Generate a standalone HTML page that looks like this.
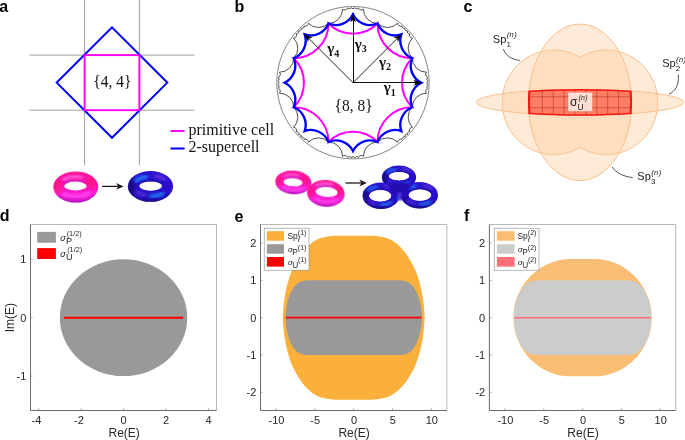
<!DOCTYPE html>
<html lang="en"><head><meta charset="utf-8"><title>Figure</title>
<style>html,body{margin:0;padding:0;background:#fff;overflow:hidden}svg{display:block}</style>
</head><body>
<svg width="685" height="440" viewBox="0 0 685 440">
<rect width="685" height="440" fill="#fff"/>
<defs>
<filter id="b03" x="-20%" y="-20%" width="140%" height="140%"><feGaussianBlur stdDeviation="0.35"/></filter>
<filter id="b1" x="-30%" y="-30%" width="160%" height="160%"><feGaussianBlur stdDeviation="1.1"/></filter>
<filter id="b2" x="-30%" y="-30%" width="160%" height="160%"><feGaussianBlur stdDeviation="1.8"/></filter>
<linearGradient id="gm" x1="0" y1="0" x2="0" y2="1">
<stop offset="0" stop-color="#ff1c9c"/><stop offset="0.4" stop-color="#ff10b0"/><stop offset="0.75" stop-color="#ff20d8"/><stop offset="1" stop-color="#c41cc8"/>
</linearGradient>
<linearGradient id="gb" x1="0" y1="0" x2="0" y2="1">
<stop offset="0" stop-color="#2c14d0"/><stop offset="0.5" stop-color="#2a10cc"/><stop offset="0.85" stop-color="#2614c4"/><stop offset="1" stop-color="#180c90"/>
</linearGradient>
</defs>
<g id="pa">
<g stroke="#6e6e6e" stroke-width="0.65" fill="none">
<line x1="84.6" y1="0" x2="84.6" y2="165.3"/>
<line x1="139.4" y1="0" x2="139.4" y2="165.3"/>
<line x1="29.4" y1="55.1" x2="194.5" y2="55.1"/>
<line x1="29.4" y1="110.2" x2="194.5" y2="110.2"/>
</g>
<polygon points="112,27.4 167.3,82.6 112,137.8 56.7,82.6" fill="none" stroke="#0000ff" stroke-width="2" stroke-linejoin="miter"/>
<rect x="84.6" y="55.1" width="54.8" height="55.1" fill="none" stroke="#ff00ff" stroke-width="1.9"/>
<text transform="translate(112.3,86.8) scale(1,1.09)" font-family='"Liberation Serif", "Times New Roman", Times, serif' font-size="15.5" text-anchor="middle" fill="#111">{4, 4}</text>
</g>
<line x1="170.5" y1="131" x2="184.6" y2="131" stroke="#ff00ff" stroke-width="2"/>
<line x1="170.5" y1="148.5" x2="184.6" y2="148.5" stroke="#0000ff" stroke-width="2"/>
<text transform="translate(188.5,134.6) scale(1,1.04)" font-family='"Liberation Serif", "Times New Roman", Times, serif' font-size="16" fill="#111">primitive cell</text>
<text transform="translate(188.5,152.3) scale(1,1.04)" font-family='"Liberation Serif", "Times New Roman", Times, serif' font-size="16" fill="#111">2-supercell</text>
<g id="pb">
<circle cx="353.0" cy="82.7" r="76.2" fill="none" stroke="#444" stroke-width="0.65"/>
<path d="M412.2,58.18A14.27,14.27 0 0,1 412.41,38.09A3.1,3.1 0 0,1 409.64,33.81A2.26,2.26 0 0,1 407.35,30.94A2.19,2.19 0 0,1 404.76,28.35A2.26,2.26 0 0,1 401.89,26.06A3.1,3.1 0 0,1 397.61,23.29A14.27,14.27 0 0,1 377.52,23.5A14.27,14.27 0 0,1 363.47,9.15A3.1,3.1 0 0,1 358.48,8.07A2.26,2.26 0 0,1 354.83,7.67A2.19,2.19 0 0,1 351.17,7.67A2.26,2.26 0 0,1 347.52,8.07A3.1,3.1 0 0,1 342.53,9.15A14.27,14.27 0 0,1 328.48,23.5A14.27,14.27 0 0,1 308.39,23.29A3.1,3.1 0 0,1 304.11,26.06A2.26,2.26 0 0,1 301.24,28.35A2.19,2.19 0 0,1 298.65,30.94A2.26,2.26 0 0,1 296.36,33.81A3.1,3.1 0 0,1 293.59,38.09A14.27,14.27 0 0,1 293.8,58.18A14.27,14.27 0 0,1 279.45,72.23A3.1,3.1 0 0,1 278.37,77.22A2.26,2.26 0 0,1 277.97,80.87A2.19,2.19 0 0,1 277.97,84.53A2.26,2.26 0 0,1 278.37,88.18A3.1,3.1 0 0,1 279.45,93.17A14.27,14.27 0 0,1 293.8,107.22A14.27,14.27 0 0,1 293.59,127.31A3.1,3.1 0 0,1 296.36,131.59A2.26,2.26 0 0,1 298.65,134.46A2.19,2.19 0 0,1 301.24,137.05A2.26,2.26 0 0,1 304.11,139.34A3.1,3.1 0 0,1 308.39,142.11A14.27,14.27 0 0,1 328.48,141.9A14.27,14.27 0 0,1 342.53,156.25A3.1,3.1 0 0,1 347.52,157.33A2.26,2.26 0 0,1 351.17,157.73A2.19,2.19 0 0,1 354.83,157.73A2.26,2.26 0 0,1 358.48,157.33A3.1,3.1 0 0,1 363.47,156.25A14.27,14.27 0 0,1 377.52,141.9A14.27,14.27 0 0,1 397.61,142.11A3.1,3.1 0 0,1 401.89,139.34A2.26,2.26 0 0,1 404.76,137.05A2.19,2.19 0 0,1 407.35,134.46A2.26,2.26 0 0,1 409.64,131.59A3.1,3.1 0 0,1 412.41,127.31A14.27,14.27 0 0,1 412.2,107.22A14.27,14.27 0 0,1 426.55,93.17A3.1,3.1 0 0,1 427.63,88.18A2.26,2.26 0 0,1 428.03,84.53A2.19,2.19 0 0,1 428.03,80.87A2.26,2.26 0 0,1 427.63,77.22A3.1,3.1 0 0,1 426.55,72.23A14.27,14.27 0 0,1 412.2,58.18Z" fill="none" stroke="#111" stroke-width="0.75" stroke-linejoin="miter"/>
<path d="M412.2,58.18A34.68,34.68 0 0,1 377.52,23.5A34.68,34.68 0 0,1 328.48,23.5A34.68,34.68 0 0,1 293.8,58.18A34.68,34.68 0 0,1 293.8,107.22A34.68,34.68 0 0,1 328.48,141.9A34.68,34.68 0 0,1 377.52,141.9A34.68,34.68 0 0,1 412.2,107.22A34.68,34.68 0 0,1 412.2,58.18Z" fill="none" stroke="#ff00ff" stroke-width="2.0" stroke-linejoin="miter"/>
<path d="M412.2,58.18A18.98,18.98 0 0,1 401.33,34.37A18.98,18.98 0 0,1 377.52,23.5A18.98,18.98 0 0,1 353,14.35A18.98,18.98 0 0,1 328.48,23.5A18.98,18.98 0 0,1 304.67,34.37A18.98,18.98 0 0,1 293.8,58.18A18.98,18.98 0 0,1 284.65,82.7A18.98,18.98 0 0,1 293.8,107.22A18.98,18.98 0 0,1 304.67,131.03A18.98,18.98 0 0,1 328.48,141.9A18.98,18.98 0 0,1 353,151.05A18.98,18.98 0 0,1 377.52,141.9A18.98,18.98 0 0,1 401.33,131.03A18.98,18.98 0 0,1 412.2,107.22A18.98,18.98 0 0,1 421.35,82.7A18.98,18.98 0 0,1 412.2,58.18Z" fill="none" stroke="#0000ff" stroke-width="2.35" stroke-linejoin="miter" stroke-miterlimit="10"/>
<line x1="353.0" y1="82.7" x2="418.04" y2="82.7" stroke="#111" stroke-width="1" shape-rendering="crispEdges"/>
<path d="M422.04,82.7L413.54,85.6L415.54,82.7L413.54,79.8Z" fill="#000"/>
<line x1="353.0" y1="82.7" x2="398.99" y2="36.71" stroke="#111" stroke-width="0.9"/>
<path d="M401.82,33.88L397.86,41.94L397.22,38.48L393.76,37.84Z" fill="#000"/>
<line x1="353.0" y1="82.7" x2="353" y2="17.66" stroke="#111" stroke-width="1" shape-rendering="crispEdges"/>
<path d="M353,13.66L355.9,22.16L353,20.16L350.1,22.16Z" fill="#000"/>
<line x1="353.0" y1="82.7" x2="307.01" y2="36.71" stroke="#111" stroke-width="0.9"/>
<path d="M304.18,33.88L312.24,37.84L308.78,38.48L308.14,41.94Z" fill="#000"/>
<text x="383.8" y="92.4" font-family='"Liberation Serif", "Times New Roman", Times, serif' font-weight="bold" font-size="15" fill="#111">γ<tspan font-size="10" dy="3.4">1</tspan></text>
<text x="379.0" y="66.6" font-family='"Liberation Serif", "Times New Roman", Times, serif' font-weight="bold" font-size="15" fill="#111">γ<tspan font-size="10" dy="3.4">2</tspan></text>
<text x="354.7" y="48.6" font-family='"Liberation Serif", "Times New Roman", Times, serif' font-weight="bold" font-size="15" fill="#111">γ<tspan font-size="10" dy="3.4">3</tspan></text>
<text x="327.3" y="53.2" font-family='"Liberation Serif", "Times New Roman", Times, serif' font-weight="bold" font-size="15" fill="#111">γ<tspan font-size="10" dy="3.4">4</tspan></text>
<text transform="translate(353.6,110.9) scale(1,1.07)" font-family='"Liberation Serif", "Times New Roman", Times, serif' font-size="15.5" text-anchor="middle" fill="#111">{8, 8}</text>
</g>
<g>
<clipPath id="tc1"><path d="M53.3,187a22.5,15.6 0 1,0 45,0a22.5,15.6 0 1,0 -45,0ZM64.2,186a11.2,4.4 0 1,0 22.4,0a11.2,4.4 0 1,0 -22.4,0Z" clip-rule="evenodd"/></clipPath>
<g filter="url(#b03)"><path d="M53.3,187a22.5,15.6 0 1,0 45,0a22.5,15.6 0 1,0 -45,0ZM64.2,186a11.2,4.4 0 1,0 22.4,0a11.2,4.4 0 1,0 -22.4,0Z" fill-rule="evenodd" fill="url(#gm)"/>
<g clip-path="url(#tc1)">
<ellipse cx="57.35" cy="186.22" rx="3.83" ry="7.8" fill="#ff1a64" filter="url(#b2)" opacity="0.55"/>
<ellipse cx="91.55" cy="182.32" rx="3.83" ry="6.24" fill="#ff1a64" filter="url(#b2)" opacity="0.55"/>
<path d="M63.47,179.9A16.85,10 0 0,1 81.5,177.3" fill="none" stroke="#ff78ec" stroke-width="2.91" stroke-linecap="round" filter="url(#b1)" opacity="0.75"/>
<path d="M65.88,182.7A11.76,5.28 0 0,1 81.56,181.6" fill="none" stroke="#a838e8" stroke-width="2.24" stroke-linecap="round" filter="url(#b1)" opacity="0.85"/>
<path d="M63.8,193.7A16.85,10.5 0 0,0 89.08,192.5" fill="none" stroke="#ff4af4" stroke-width="3.81" stroke-linecap="round" filter="url(#b1)" opacity="0.8"/>
<path d="M57.8,196.67A22.5,15.6 0 0,0 94.92,195.58" fill="none" stroke="#9a1cb8" stroke-width="1.79" stroke-linecap="round" filter="url(#b1)" opacity="0.85"/>
</g></g></g>
<line x1="102.2" y1="186.4" x2="120.6" y2="186.4" stroke="#231815" stroke-width="1.3"/>
<path d="M123.6,186.4L116.1,183L118.3,186.4L116.1,189.8Z" fill="#231815"/>
<g>
<clipPath id="tc2"><path d="M127.9,186.4a22.6,15.4 0 1,0 45.2,0a22.6,15.4 0 1,0 -45.2,0ZM139.3,186.1a11.4,4.6 0 1,0 22.8,0a11.4,4.6 0 1,0 -22.8,0Z" clip-rule="evenodd"/></clipPath>
<g filter="url(#b03)"><path d="M127.9,186.4a22.6,15.4 0 1,0 45.2,0a22.6,15.4 0 1,0 -45.2,0ZM139.3,186.1a11.4,4.6 0 1,0 22.8,0a11.4,4.6 0 1,0 -22.8,0Z" fill-rule="evenodd" fill="url(#gb)"/>
<g clip-path="url(#tc2)">
<ellipse cx="131.29" cy="187.17" rx="3.62" ry="8.47" fill="#120870" filter="url(#b2)" opacity="0.8"/>
<path d="M131.29,194.87A22.6,15.4 0 0,0 169.71,194.87" fill="none" stroke="#120870" stroke-width="2.16" stroke-linecap="round" filter="url(#b1)" opacity="0.85"/>
<path d="M140.44,183.34A11.97,5.52 0 0,1 160.96,183.34" fill="none" stroke="#1a0c90" stroke-width="1.94" stroke-linecap="round" filter="url(#b1)" opacity="0.8"/>
<path d="M136.18,180.95A17,10 0 0,1 146.2,176.59" fill="none" stroke="#1e90ff" stroke-width="3.67" stroke-linecap="round" filter="url(#b2)" opacity="0.85"/>
<path d="M155.35,175.82A18.36,10.8 0 0,1 164.66,179.31" fill="none" stroke="#8c4ce0" stroke-width="2.81" stroke-linecap="round" filter="url(#b2)" opacity="0.7"/>
<path d="M162.62,193.32A17,10 0 0,1 151.19,196.24" fill="none" stroke="#1e90ff" stroke-width="3.67" stroke-linecap="round" filter="url(#b2)" opacity="0.85"/>
<path d="M144.55,195.06A16.15,9.5 0 0,1 136.9,191.28" fill="none" stroke="#7c3cd8" stroke-width="2.81" stroke-linecap="round" filter="url(#b2)" opacity="0.65"/>
</g></g></g>
<g transform="rotate(4 293.4 182.3)">
<clipPath id="tc3"><path d="M275.3,182.3a18.1,11.9 0 1,0 36.2,0a18.1,11.9 0 1,0 -36.2,0ZM283.4,182.3a9.6,4 0 1,0 19.2,0a9.6,4 0 1,0 -19.2,0Z" clip-rule="evenodd"/></clipPath>
<g filter="url(#b03)"><path d="M275.3,182.3a18.1,11.9 0 1,0 36.2,0a18.1,11.9 0 1,0 -36.2,0ZM283.4,182.3a9.6,4 0 1,0 19.2,0a9.6,4 0 1,0 -19.2,0Z" fill-rule="evenodd" fill="url(#gm)"/>
<g clip-path="url(#tc3)">
<ellipse cx="278.56" cy="181.71" rx="3.08" ry="5.95" fill="#ff1a64" filter="url(#b2)" opacity="0.55"/>
<ellipse cx="306.07" cy="178.73" rx="3.08" ry="4.76" fill="#ff1a64" filter="url(#b2)" opacity="0.55"/>
<path d="M283.23,177.05A13.85,7.95 0 0,1 298.05,174.99" fill="none" stroke="#ff78ec" stroke-width="2.05" stroke-linecap="round" filter="url(#b1)" opacity="0.75"/>
<path d="M284.84,179.3A10.08,4.8 0 0,1 298.28,178.3" fill="none" stroke="#a838e8" stroke-width="1.58" stroke-linecap="round" filter="url(#b1)" opacity="0.85"/>
<path d="M283.5,188.02A13.85,8.35 0 0,0 304.28,187.07" fill="none" stroke="#ff4af4" stroke-width="2.69" stroke-linecap="round" filter="url(#b1)" opacity="0.8"/>
<path d="M278.92,189.68A18.1,11.9 0 0,0 308.78,188.84" fill="none" stroke="#9a1cb8" stroke-width="1.26" stroke-linecap="round" filter="url(#b1)" opacity="0.85"/>
</g></g></g>
<g transform="rotate(4 325.9 193.4)">
<clipPath id="tc4"><path d="M307.1,193.4a18.8,13.3 0 1,0 37.6,0a18.8,13.3 0 1,0 -37.6,0ZM315.5,192a11.1,5 0 1,0 22.2,0a11.1,5 0 1,0 -22.2,0Z" clip-rule="evenodd"/></clipPath>
<g filter="url(#b03)"><path d="M307.1,193.4a18.8,13.3 0 1,0 37.6,0a18.8,13.3 0 1,0 -37.6,0ZM315.5,192a11.1,5 0 1,0 22.2,0a11.1,5 0 1,0 -22.2,0Z" fill-rule="evenodd" fill="url(#gm)"/>
<g clip-path="url(#tc4)">
<ellipse cx="310.48" cy="192.74" rx="3.2" ry="6.65" fill="#ff1a64" filter="url(#b2)" opacity="0.55"/>
<ellipse cx="339.06" cy="189.41" rx="3.2" ry="5.32" fill="#ff1a64" filter="url(#b2)" opacity="0.55"/>
<path d="M315.49,186.66A14.95,9.15 0 0,1 331.48,184.28" fill="none" stroke="#ff78ec" stroke-width="2.16" stroke-linecap="round" filter="url(#b1)" opacity="0.75"/>
<path d="M317.17,188.25A11.65,6 0 0,1 332.71,187" fill="none" stroke="#a838e8" stroke-width="1.66" stroke-linecap="round" filter="url(#b1)" opacity="0.85"/>
<path d="M315.79,199.29A14.95,9.61 0 0,0 338.21,198.19" fill="none" stroke="#ff4af4" stroke-width="2.82" stroke-linecap="round" filter="url(#b1)" opacity="0.8"/>
<path d="M310.86,201.65A18.8,13.3 0 0,0 341.88,200.72" fill="none" stroke="#9a1cb8" stroke-width="1.33" stroke-linecap="round" filter="url(#b1)" opacity="0.85"/>
</g></g></g>
<line x1="345.6" y1="183" x2="363.8" y2="183" stroke="#231815" stroke-width="1.3"/>
<path d="M366.8,183L359.3,179.6L361.5,183L359.3,186.4Z" fill="#231815"/>
<g>
<clipPath id="tc5"><path d="M381.9,177.2a17.1,11.7 0 1,0 34.2,0a17.1,11.7 0 1,0 -34.2,0ZM388.9,176.2a10.1,4.1 0 1,0 20.2,0a10.1,4.1 0 1,0 -20.2,0Z" clip-rule="evenodd"/></clipPath>
<g filter="url(#b03)"><path d="M381.9,177.2a17.1,11.7 0 1,0 34.2,0a17.1,11.7 0 1,0 -34.2,0ZM388.9,176.2a10.1,4.1 0 1,0 20.2,0a10.1,4.1 0 1,0 -20.2,0Z" fill-rule="evenodd" fill="url(#gb)"/>
<g clip-path="url(#tc5)">
<ellipse cx="384.46" cy="177.78" rx="2.74" ry="6.44" fill="#120870" filter="url(#b2)" opacity="0.8"/>
<path d="M384.46,183.63A17.1,11.7 0 0,0 413.54,183.63" fill="none" stroke="#120870" stroke-width="1.52" stroke-linecap="round" filter="url(#b1)" opacity="0.85"/>
<path d="M389.91,173.74A10.61,4.92 0 0,1 408.09,173.74" fill="none" stroke="#1a0c90" stroke-width="1.37" stroke-linecap="round" filter="url(#b1)" opacity="0.8"/>
<path d="M387.47,172.51A13.6,7.9 0 0,1 395.48,169.07" fill="none" stroke="#1e90ff" stroke-width="2.58" stroke-linecap="round" filter="url(#b2)" opacity="0.85"/>
<path d="M402.8,168.46A14.69,8.53 0 0,1 410.25,171.22" fill="none" stroke="#8c4ce0" stroke-width="1.98" stroke-linecap="round" filter="url(#b2)" opacity="0.7"/>
<path d="M408.62,182.29A13.6,7.9 0 0,1 399.47,184.6" fill="none" stroke="#1e90ff" stroke-width="2.58" stroke-linecap="round" filter="url(#b2)" opacity="0.85"/>
<path d="M394.16,183.66A12.92,7.5 0 0,1 388.04,180.68" fill="none" stroke="#7c3cd8" stroke-width="1.98" stroke-linecap="round" filter="url(#b2)" opacity="0.65"/>
</g></g></g>
<g>
<clipPath id="tc6"><path d="M362.6,195.7a18.4,13.2 0 1,0 36.8,0a18.4,13.2 0 1,0 -36.8,0ZM369.2,195.7a11,5.7 0 1,0 22,0a11,5.7 0 1,0 -22,0Z" clip-rule="evenodd"/></clipPath>
<g filter="url(#b03)"><path d="M362.6,195.7a18.4,13.2 0 1,0 36.8,0a18.4,13.2 0 1,0 -36.8,0ZM369.2,195.7a11,5.7 0 1,0 22,0a11,5.7 0 1,0 -22,0Z" fill-rule="evenodd" fill="url(#gb)"/>
<g clip-path="url(#tc6)">
<ellipse cx="365.36" cy="196.36" rx="2.94" ry="7.26" fill="#120870" filter="url(#b2)" opacity="0.8"/>
<path d="M365.36,202.96A18.4,13.2 0 0,0 396.64,202.96" fill="none" stroke="#120870" stroke-width="1.5" stroke-linecap="round" filter="url(#b1)" opacity="0.85"/>
<path d="M370.3,192.28A11.55,6.84 0 0,1 390.1,192.28" fill="none" stroke="#1a0c90" stroke-width="1.35" stroke-linecap="round" filter="url(#b1)" opacity="0.8"/>
<path d="M368.13,190.69A14.7,9.45 0 0,1 376.8,186.57" fill="none" stroke="#1e90ff" stroke-width="2.55" stroke-linecap="round" filter="url(#b2)" opacity="0.85"/>
<path d="M384.71,185.84A15.88,10.21 0 0,1 392.76,189.14" fill="none" stroke="#8c4ce0" stroke-width="1.95" stroke-linecap="round" filter="url(#b2)" opacity="0.7"/>
<path d="M390.99,202.38A14.7,9.45 0 0,1 381.11,205.14" fill="none" stroke="#1e90ff" stroke-width="2.55" stroke-linecap="round" filter="url(#b2)" opacity="0.85"/>
<path d="M375.37,204.02A13.96,8.98 0 0,1 368.76,200.46" fill="none" stroke="#7c3cd8" stroke-width="1.95" stroke-linecap="round" filter="url(#b2)" opacity="0.65"/>
</g></g></g>
<g>
<clipPath id="tc7"><path d="M401,195.2a18.5,13.2 0 1,0 37,0a18.5,13.2 0 1,0 -37,0ZM408.6,195.1a11.3,5.6 0 1,0 22.6,0a11.3,5.6 0 1,0 -22.6,0Z" clip-rule="evenodd"/></clipPath>
<g filter="url(#b03)"><path d="M401,195.2a18.5,13.2 0 1,0 37,0a18.5,13.2 0 1,0 -37,0ZM408.6,195.1a11.3,5.6 0 1,0 22.6,0a11.3,5.6 0 1,0 -22.6,0Z" fill-rule="evenodd" fill="url(#gb)"/>
<g clip-path="url(#tc7)">
<ellipse cx="403.77" cy="195.86" rx="2.96" ry="7.26" fill="#120870" filter="url(#b2)" opacity="0.8"/>
<path d="M403.77,202.46A18.5,13.2 0 0,0 435.23,202.46" fill="none" stroke="#120870" stroke-width="1.52" stroke-linecap="round" filter="url(#b1)" opacity="0.85"/>
<path d="M409.73,191.74A11.87,6.72 0 0,1 430.07,191.74" fill="none" stroke="#1a0c90" stroke-width="1.37" stroke-linecap="round" filter="url(#b1)" opacity="0.8"/>
<path d="M407.06,190.17A14.9,9.4 0 0,1 415.84,186.07" fill="none" stroke="#1e90ff" stroke-width="2.58" stroke-linecap="round" filter="url(#b2)" opacity="0.85"/>
<path d="M423.86,185.34A16.09,10.15 0 0,1 432.03,188.62" fill="none" stroke="#8c4ce0" stroke-width="1.98" stroke-linecap="round" filter="url(#b2)" opacity="0.7"/>
<path d="M430.24,201.8A14.9,9.4 0 0,1 420.22,204.54" fill="none" stroke="#1e90ff" stroke-width="2.58" stroke-linecap="round" filter="url(#b2)" opacity="0.85"/>
<path d="M414.4,203.43A14.15,8.93 0 0,1 407.7,199.88" fill="none" stroke="#7c3cd8" stroke-width="1.98" stroke-linecap="round" filter="url(#b2)" opacity="0.65"/>
</g></g></g>
<g filter="url(#b1)"><path d="M388,183.5 Q399,180.5 411,183.5 L409.5,195 Q404,197 400,201 Q396,197 390.5,195Z" fill="#2610c0"/><ellipse cx="399.7" cy="187.5" rx="8.5" ry="5" fill="#220eb0"/></g>
<ellipse cx="399.8" cy="195.2" rx="1.5" ry="3.2" fill="#7a48d8" filter="url(#b1)" opacity="0.85"/>
<ellipse cx="398.2" cy="198.2" rx="1.3" ry="1.6" fill="#2a80ff" filter="url(#b1)" opacity="0.8"/>
<g filter="url(#b03)" fill="#fff"><ellipse cx="399" cy="176.2" rx="10.0" ry="4.0"/><ellipse cx="380.2" cy="195.7" rx="10.9" ry="5.6"/><ellipse cx="419.9" cy="195.1" rx="11.2" ry="5.5"/></g>
<g id="pc">
<defs><clipPath id="cthin"><ellipse cx="580.0" cy="102.3" rx="103.7" ry="12.9"/></clipPath><clipPath id="cvert"><ellipse cx="580.0" cy="102.3" rx="52.2" ry="78.8"/></clipPath></defs>
<path d="M580,57.04A51.8,52.4 0 1,1 580,147.56A51.8,52.4 0 1,1 580,57.04Z" fill="#fdd0a0" fill-opacity="0.42" stroke="#fbbf8a" stroke-width="1.0"/>
<ellipse cx="580.0" cy="102.3" rx="51.6" ry="78.2" fill="#fdd0a0" fill-opacity="0.42" stroke="#fbbf8a" stroke-width="1.0"/>
<ellipse cx="580.0" cy="102.3" rx="103.7" ry="12.9" fill="#fdd0a0" fill-opacity="0.42" stroke="#fbbf8a" stroke-width="1.0"/>
<g clip-path="url(#cthin)">
<ellipse cx="580.0" cy="102.3" rx="51.6" ry="78.2" fill="#ff5a44" fill-opacity="0.72" stroke="none"/>
<g stroke="#7a1810" stroke-width="0.55" stroke-opacity="0.7">
<line x1="542.3" y1="88" x2="542.3" y2="117"/>
<line x1="553.2" y1="88" x2="553.2" y2="117"/>
<line x1="564.1" y1="88" x2="564.1" y2="117"/>
<line x1="575.0" y1="88" x2="575.0" y2="117"/>
<line x1="585.9" y1="88" x2="585.9" y2="117"/>
<line x1="596.8" y1="88" x2="596.8" y2="117"/>
<line x1="607.7" y1="88" x2="607.7" y2="117"/>
<line x1="618.6" y1="88" x2="618.6" y2="117"/>
<line x1="528" y1="96.8" x2="632" y2="96.8"/>
<line x1="528" y1="107.8" x2="632" y2="107.8"/>
</g>
<ellipse cx="580.0" cy="102.3" rx="51.0" ry="77.60000000000001" fill="none" stroke="#f41812" stroke-width="2.1"/>
</g>
<ellipse cx="580.0" cy="102.3" rx="103.7" ry="12.6" fill="none" stroke="#f41812" stroke-width="1.5" clip-path="url(#cvert)"/>
<rect x="568.2" y="92.6" width="24" height="18.6" fill="#fde6dc" fill-opacity="0.94"/>
<text x="570" y="106.2" font-family='"Liberation Sans", Arial, Helvetica, sans-serif' font-size="12" fill="#1a1a1a">σ<tspan font-size="8.4" dy="3.3">U</tspan><tspan font-size="7" dy="-9.8" dx="-5" font-style="italic" letter-spacing="0.3">(n)</tspan></text>
<text x="492.8" y="42.6" font-family='"Liberation Sans", Arial, Helvetica, sans-serif' font-size="11" fill="#1a1a1a">Sp<tspan font-size="8" dy="3.9" dx="0.2">1</tspan><tspan font-size="7.6" dy="-9.4" dx="-4.2" font-style="italic" letter-spacing="0.35">(n)</tspan></text>
<text x="662.2" y="67.3" font-family='"Liberation Sans", Arial, Helvetica, sans-serif' font-size="11" fill="#1a1a1a">Sp<tspan font-size="8" dy="3.9" dx="0.2">2</tspan><tspan font-size="7.6" dy="-9.4" dx="-4.2" font-style="italic" letter-spacing="0.35">(n)</tspan></text>
<text x="637.3" y="180.3" font-family='"Liberation Sans", Arial, Helvetica, sans-serif' font-size="11" fill="#1a1a1a">Sp<tspan font-size="8" dy="3.9" dx="0.2">3</tspan><tspan font-size="7.6" dy="-9.4" dx="-4.2" font-style="italic" letter-spacing="0.35">(n)</tspan></text>
<path d="M503.4,49C505.5,55.5 511.5,59.5 519.8,60.5" fill="none" stroke="#333" stroke-width="0.85"/>
<path d="M678.2,74.5C679.3,85 675.5,91 669,94.2" fill="none" stroke="#333" stroke-width="0.85"/>
<path d="M612.2,167C616,172.8 623,176.4 632.7,177.6" fill="none" stroke="#333" stroke-width="0.85"/>
</g>
<g id="pd">
<ellipse cx="123.55" cy="317.7" rx="63.7" ry="58.4" fill="#999999"/>
<line x1="63.85" y1="317.7" x2="183.25" y2="317.7" stroke="#ff0000" stroke-width="1.9"/>
<path d="M30.5,224.5H216.5V410.5" fill="none" stroke="#b4aeae" stroke-width="0.9"/>
<path d="M30.5,224.5V410.5H216.5" fill="none" stroke="#5a5a5a" stroke-width="0.9"/>
<line x1="38.59" y1="410.5" x2="38.59" y2="408.3" stroke="#808080" stroke-width="0.65"/>
<text x="36.49" y="424.1" font-family='"Liberation Sans", Arial, Helvetica, sans-serif' font-size="11" fill="#262626" text-anchor="middle">-4</text>
<line x1="81.07" y1="410.5" x2="81.07" y2="408.3" stroke="#808080" stroke-width="0.65"/>
<text x="78.97" y="424.1" font-family='"Liberation Sans", Arial, Helvetica, sans-serif' font-size="11" fill="#262626" text-anchor="middle">-2</text>
<line x1="123.55" y1="410.5" x2="123.55" y2="408.3" stroke="#808080" stroke-width="0.65"/>
<text x="123.65" y="424.1" font-family='"Liberation Sans", Arial, Helvetica, sans-serif' font-size="11" fill="#262626" text-anchor="middle">0</text>
<line x1="166.03" y1="410.5" x2="166.03" y2="408.3" stroke="#808080" stroke-width="0.65"/>
<text x="166.13" y="424.1" font-family='"Liberation Sans", Arial, Helvetica, sans-serif' font-size="11" fill="#262626" text-anchor="middle">2</text>
<line x1="208.51" y1="410.5" x2="208.51" y2="408.3" stroke="#808080" stroke-width="0.65"/>
<text x="208.61" y="424.1" font-family='"Liberation Sans", Arial, Helvetica, sans-serif' font-size="11" fill="#262626" text-anchor="middle">4</text>
<line x1="30.5" y1="376" x2="32.7" y2="376" stroke="#808080" stroke-width="0.65"/>
<text x="26.3" y="380" font-family='"Liberation Sans", Arial, Helvetica, sans-serif' font-size="11" fill="#262626" text-anchor="end">-1</text>
<line x1="30.5" y1="317.7" x2="32.7" y2="317.7" stroke="#808080" stroke-width="0.65"/>
<text x="26.3" y="321.7" font-family='"Liberation Sans", Arial, Helvetica, sans-serif' font-size="11" fill="#262626" text-anchor="end">0</text>
<line x1="30.5" y1="259.4" x2="32.7" y2="259.4" stroke="#808080" stroke-width="0.65"/>
<text x="26.3" y="263.4" font-family='"Liberation Sans", Arial, Helvetica, sans-serif' font-size="11" fill="#262626" text-anchor="end">1</text>
<text x="124.15" y="437" font-family='"Liberation Sans", Arial, Helvetica, sans-serif' font-size="12" fill="#262626" text-anchor="middle">Re(E)</text>
<text transform="translate(13.8,317.7) rotate(-90)" font-family='"Liberation Sans", Arial, Helvetica, sans-serif' font-size="12" fill="#262626" text-anchor="middle">Im(E)</text>
<rect x="37.2" y="231.9" width="18.7" height="10.8" fill="#999999"/>
<rect x="37.2" y="248.1" width="18.7" height="10.9" fill="#ff0000"/>
<text x="60.3" y="240.5" font-family='"Liberation Sans", Arial, Helvetica, sans-serif' font-size="9" fill="#262626"><tspan font-style="italic">σ</tspan><tspan font-size="9.2" dy="3.7" dx="0.2">P</tspan><tspan font-size="7.3" dy="-8.4" dx="-5.4">(1/2)</tspan></text>
<text x="60.3" y="256.7" font-family='"Liberation Sans", Arial, Helvetica, sans-serif' font-size="9" fill="#262626"><tspan font-style="italic">σ</tspan><tspan font-size="9.2" dy="3.7" dx="0.2">U</tspan><tspan font-size="7.3" dy="-8.4" dx="-5.4">(1/2)</tspan></text>
</g>
<g id="pe">
<path d="M424.6,317.7L424.59,316.5L424.56,315.32L424.51,314.17L424.44,313L424.36,311.81L424.26,310.57L424.14,309.28L424,307.9L423.85,306.43L423.69,304.9L423.51,303.3L423.31,301.66L423.1,299.99L422.86,298.3L422.59,296.59L422.3,294.9L421.98,293.18L421.63,291.42L421.26,289.63L420.86,287.83L420.45,286.04L420.01,284.28L419.56,282.56L419.1,280.9L418.63,279.31L418.15,277.78L417.66,276.28L417.16,274.82L416.62,273.37L416.06,271.93L415.45,270.47L414.8,269L414.09,267.49L413.33,265.95L412.52,264.39L411.69,262.84L410.83,261.32L409.98,259.84L409.13,258.43L408.3,257.1L407.49,255.85L406.68,254.65L405.86,253.51L405.05,252.42L404.24,251.37L403.43,250.38L402.61,249.42L401.8,248.5L400.99,247.63L400.17,246.81L399.36,246.03L398.54,245.3L397.73,244.61L396.92,243.94L396.11,243.31L395.3,242.7L394.5,242.12L393.7,241.56L392.9,241.05L392.1,240.56L391.3,240.1L390.5,239.67L389.7,239.27L388.9,238.9L388.1,238.57L387.29,238.27L386.49,238.01L385.68,237.77L384.87,237.56L384.06,237.37L383.23,237.18L382.4,237L381.55,236.83L380.69,236.67L379.82,236.53L378.95,236.4L378.08,236.29L377.21,236.18L376.35,236.09L375.5,236L374.68,235.92L373.88,235.86L373.09,235.81L372.3,235.76L371.51,235.73L370.7,235.7L369.87,235.67L369,235.65L338.4,235.65L337.53,235.67L336.7,235.7L335.89,235.73L335.1,235.76L334.31,235.81L333.52,235.86L332.72,235.92L331.9,236L331.05,236.09L330.19,236.18L329.32,236.29L328.45,236.4L327.58,236.53L326.71,236.67L325.85,236.83L325,237L324.17,237.18L323.34,237.37L322.53,237.56L321.72,237.77L320.91,238.01L320.11,238.27L319.3,238.57L318.5,238.9L317.7,239.27L316.9,239.67L316.1,240.1L315.3,240.56L314.5,241.05L313.7,241.56L312.9,242.12L312.1,242.7L311.29,243.31L310.48,243.94L309.67,244.61L308.86,245.3L308.04,246.03L307.23,246.81L306.41,247.63L305.6,248.5L304.79,249.42L303.97,250.38L303.16,251.37L302.35,252.42L301.54,253.51L300.72,254.65L299.91,255.85L299.1,257.1L298.27,258.43L297.42,259.84L296.57,261.32L295.71,262.84L294.88,264.39L294.07,265.95L293.31,267.49L292.6,269L291.95,270.47L291.34,271.93L290.78,273.37L290.24,274.82L289.74,276.28L289.25,277.78L288.77,279.31L288.3,280.9L287.84,282.56L287.39,284.28L286.95,286.04L286.54,287.83L286.14,289.63L285.77,291.42L285.42,293.18L285.1,294.9L284.81,296.59L284.54,298.3L284.3,299.99L284.09,301.66L283.89,303.3L283.71,304.9L283.55,306.43L283.4,307.9L283.26,309.28L283.14,310.57L283.04,311.81L282.96,313L282.89,314.17L282.84,315.32L282.81,316.5L282.8,317.7L282.81,318.9L282.84,320.07L282.89,321.23L282.96,322.4L283.04,323.59L283.14,324.82L283.26,326.12L283.4,327.5L283.55,328.97L283.71,330.5L283.89,332.1L284.09,333.74L284.3,335.41L284.54,337.1L284.81,338.81L285.1,340.5L285.42,342.22L285.77,343.98L286.14,345.77L286.54,347.57L286.95,349.36L287.39,351.12L287.84,352.84L288.3,354.5L288.77,356.09L289.25,357.62L289.74,359.12L290.24,360.58L290.78,362.03L291.34,363.47L291.95,364.93L292.6,366.4L293.31,367.91L294.07,369.45L294.88,371.01L295.71,372.56L296.57,374.08L297.42,375.56L298.27,376.97L299.1,378.3L299.91,379.55L300.72,380.75L301.54,381.89L302.35,382.98L303.16,384.03L303.97,385.02L304.79,385.98L305.6,386.9L306.41,387.77L307.23,388.59L308.04,389.37L308.86,390.1L309.67,390.79L310.48,391.46L311.29,392.09L312.1,392.7L312.9,393.28L313.7,393.84L314.5,394.35L315.3,394.84L316.1,395.3L316.9,395.73L317.7,396.13L318.5,396.5L319.3,396.83L320.11,397.13L320.91,397.39L321.72,397.62L322.53,397.84L323.34,398.03L324.17,398.22L325,398.4L325.85,398.57L326.71,398.73L327.58,398.87L328.45,399L329.32,399.11L330.19,399.22L331.05,399.31L331.9,399.4L332.72,399.48L333.52,399.54L334.31,399.59L335.1,399.64L335.89,399.67L336.7,399.7L337.53,399.73L338.4,399.75L369,399.75L369.87,399.73L370.7,399.7L371.51,399.67L372.3,399.64L373.09,399.59L373.88,399.54L374.68,399.48L375.5,399.4L376.35,399.31L377.21,399.22L378.08,399.11L378.95,399L379.82,398.87L380.69,398.73L381.55,398.57L382.4,398.4L383.23,398.22L384.06,398.03L384.87,397.84L385.68,397.62L386.49,397.39L387.29,397.13L388.1,396.83L388.9,396.5L389.7,396.13L390.5,395.73L391.3,395.3L392.1,394.84L392.9,394.35L393.7,393.84L394.5,393.28L395.3,392.7L396.11,392.09L396.92,391.46L397.73,390.79L398.54,390.1L399.36,389.37L400.17,388.59L400.99,387.77L401.8,386.9L402.61,385.98L403.43,385.02L404.24,384.03L405.05,382.98L405.86,381.89L406.68,380.75L407.49,379.55L408.3,378.3L409.13,376.97L409.98,375.56L410.83,374.08L411.69,372.56L412.52,371.01L413.33,369.45L414.09,367.91L414.8,366.4L415.45,364.93L416.06,363.47L416.62,362.03L417.16,360.58L417.66,359.12L418.15,357.62L418.63,356.09L419.1,354.5L419.56,352.84L420.01,351.12L420.45,349.36L420.86,347.57L421.26,345.77L421.63,343.98L421.98,342.22L422.3,340.5L422.59,338.81L422.86,337.1L423.1,335.41L423.31,333.74L423.51,332.1L423.69,330.5L423.85,328.97L424,327.5L424.14,326.12L424.26,324.82L424.36,323.59L424.44,322.4L424.51,321.23L424.56,320.07L424.59,318.9Z" fill="#fbb03b"/>
<path d="M421.9,317.7L421.9,317.04L421.91,316.42L421.92,315.82L421.91,315.21L421.9,314.57L421.86,313.87L421.79,313.09L421.7,312.2L421.58,311.18L421.43,310.05L421.26,308.83L421.06,307.55L420.85,306.25L420.62,304.95L420.37,303.69L420.1,302.5L419.81,301.35L419.5,300.2L419.17,299.06L418.83,297.94L418.46,296.85L418.08,295.79L417.7,294.77L417.3,293.8L416.89,292.88L416.47,291.99L416.04,291.14L415.59,290.33L415.14,289.55L414.67,288.81L414.19,288.09L413.7,287.4L413.2,286.74L412.7,286.11L412.19,285.5L411.66,284.93L411.12,284.39L410.57,283.89L409.99,283.43L409.4,283L408.78,282.62L408.13,282.28L407.46,281.98L406.77,281.71L406.07,281.48L405.38,281.27L404.68,281.07L404,280.9L403.34,280.75L402.71,280.63L402.08,280.54L401.45,280.47L400.8,280.42L400.12,280.37L399.39,280.34L398.6,280.3L308.8,280.3L308.01,280.34L307.28,280.37L306.6,280.42L305.95,280.47L305.32,280.54L304.69,280.63L304.06,280.75L303.4,280.9L302.72,281.07L302.02,281.27L301.33,281.48L300.63,281.71L299.94,281.98L299.27,282.28L298.62,282.62L298,283L297.41,283.43L296.83,283.89L296.28,284.39L295.74,284.93L295.21,285.5L294.7,286.11L294.2,286.74L293.7,287.4L293.21,288.09L292.73,288.81L292.26,289.55L291.81,290.33L291.36,291.14L290.93,291.99L290.51,292.88L290.1,293.8L289.7,294.77L289.32,295.79L288.94,296.85L288.57,297.94L288.23,299.06L287.9,300.2L287.59,301.35L287.3,302.5L287.03,303.69L286.78,304.95L286.55,306.25L286.34,307.55L286.14,308.83L285.97,310.05L285.82,311.18L285.7,312.2L285.61,313.09L285.54,313.87L285.5,314.57L285.49,315.21L285.48,315.82L285.49,316.42L285.5,317.04L285.5,317.7L285.5,318.36L285.49,318.98L285.48,319.58L285.49,320.19L285.5,320.83L285.54,321.53L285.61,322.31L285.7,323.2L285.82,324.22L285.97,325.35L286.14,326.57L286.34,327.85L286.55,329.15L286.78,330.45L287.03,331.71L287.3,332.9L287.59,334.05L287.9,335.2L288.23,336.34L288.57,337.46L288.94,338.55L289.32,339.61L289.7,340.63L290.1,341.6L290.51,342.52L290.93,343.41L291.36,344.26L291.81,345.07L292.26,345.85L292.73,346.59L293.21,347.31L293.7,348L294.2,348.66L294.7,349.29L295.21,349.9L295.74,350.47L296.28,351.01L296.83,351.51L297.41,351.97L298,352.4L298.62,352.78L299.27,353.12L299.94,353.42L300.63,353.69L301.33,353.92L302.02,354.13L302.72,354.32L303.4,354.5L304.06,354.65L304.69,354.77L305.32,354.86L305.95,354.93L306.6,354.98L307.28,355.03L308.01,355.06L308.8,355.1L398.6,355.1L399.39,355.06L400.12,355.03L400.8,354.98L401.45,354.93L402.08,354.86L402.71,354.77L403.34,354.65L404,354.5L404.68,354.32L405.38,354.13L406.07,353.92L406.77,353.69L407.46,353.42L408.13,353.12L408.78,352.78L409.4,352.4L409.99,351.97L410.57,351.51L411.12,351.01L411.66,350.47L412.19,349.9L412.7,349.29L413.2,348.66L413.7,348L414.19,347.31L414.67,346.59L415.14,345.85L415.59,345.07L416.04,344.26L416.47,343.41L416.89,342.52L417.3,341.6L417.7,340.63L418.08,339.61L418.46,338.55L418.83,337.46L419.17,336.34L419.5,335.2L419.81,334.05L420.1,332.9L420.37,331.71L420.62,330.45L420.85,329.15L421.06,327.85L421.26,326.57L421.43,325.35L421.58,324.22L421.7,323.2L421.79,322.31L421.86,321.53L421.9,320.83L421.91,320.19L421.92,319.58L421.91,318.98L421.9,318.36Z" fill="#999999"/>
<line x1="285.8" y1="317.7" x2="421.6" y2="317.7" stroke="#ff0000" stroke-width="1.7"/>
<path d="M260.5,224.5H446.9V410.5" fill="none" stroke="#b4aeae" stroke-width="0.9"/>
<path d="M260.5,224.5V410.5H446.9" fill="none" stroke="#5a5a5a" stroke-width="0.9"/>
<line x1="276.03" y1="410.5" x2="276.03" y2="408.3" stroke="#808080" stroke-width="0.65"/>
<text x="276.43" y="424.1" font-family='"Liberation Sans", Arial, Helvetica, sans-serif' font-size="11" fill="#262626" text-anchor="middle">-10</text>
<line x1="314.87" y1="410.5" x2="314.87" y2="408.3" stroke="#808080" stroke-width="0.65"/>
<text x="315.26" y="424.1" font-family='"Liberation Sans", Arial, Helvetica, sans-serif' font-size="11" fill="#262626" text-anchor="middle">-5</text>
<line x1="353.7" y1="410.5" x2="353.7" y2="408.3" stroke="#808080" stroke-width="0.65"/>
<text x="354.1" y="424.1" font-family='"Liberation Sans", Arial, Helvetica, sans-serif' font-size="11" fill="#262626" text-anchor="middle">0</text>
<line x1="392.53" y1="410.5" x2="392.53" y2="408.3" stroke="#808080" stroke-width="0.65"/>
<text x="392.93" y="424.1" font-family='"Liberation Sans", Arial, Helvetica, sans-serif' font-size="11" fill="#262626" text-anchor="middle">5</text>
<line x1="431.37" y1="410.5" x2="431.37" y2="408.3" stroke="#808080" stroke-width="0.65"/>
<text x="431.77" y="424.1" font-family='"Liberation Sans", Arial, Helvetica, sans-serif' font-size="11" fill="#262626" text-anchor="middle">10</text>
<line x1="260.5" y1="392.3" x2="262.7" y2="392.3" stroke="#808080" stroke-width="0.65"/>
<text x="256.3" y="396.3" font-family='"Liberation Sans", Arial, Helvetica, sans-serif' font-size="11" fill="#262626" text-anchor="end">-2</text>
<line x1="260.5" y1="355" x2="262.7" y2="355" stroke="#808080" stroke-width="0.65"/>
<text x="256.3" y="359" font-family='"Liberation Sans", Arial, Helvetica, sans-serif' font-size="11" fill="#262626" text-anchor="end">-1</text>
<line x1="260.5" y1="317.7" x2="262.7" y2="317.7" stroke="#808080" stroke-width="0.65"/>
<text x="256.3" y="321.7" font-family='"Liberation Sans", Arial, Helvetica, sans-serif' font-size="11" fill="#262626" text-anchor="end">0</text>
<line x1="260.5" y1="280.4" x2="262.7" y2="280.4" stroke="#808080" stroke-width="0.65"/>
<text x="256.3" y="284.4" font-family='"Liberation Sans", Arial, Helvetica, sans-serif' font-size="11" fill="#262626" text-anchor="end">1</text>
<line x1="260.5" y1="243.1" x2="262.7" y2="243.1" stroke="#808080" stroke-width="0.65"/>
<text x="256.3" y="247.1" font-family='"Liberation Sans", Arial, Helvetica, sans-serif' font-size="11" fill="#262626" text-anchor="end">2</text>
<text x="354.1" y="437" font-family='"Liberation Sans", Arial, Helvetica, sans-serif' font-size="12" fill="#262626" text-anchor="middle">Re(E)</text>
<rect x="264.2" y="228.2" width="44.8" height="42" fill="#fff" stroke="#8a8a8a" stroke-width="0.6"/>
<rect x="266.9" y="231.2" width="17.1" height="9.5" fill="#fbb03b"/>
<rect x="266.9" y="244.2" width="17.1" height="9.5" fill="#999999"/>
<rect x="266.9" y="257.0" width="17.1" height="9.6" fill="#ff0000"/>
<text x="287.4" y="238.6" font-family='"Liberation Sans", Arial, Helvetica, sans-serif' font-size="8.5" fill="#262626">Sp<tspan font-size="7" dy="3" font-style="italic">ℓ</tspan><tspan font-size="7" dy="-6.4" dx="-2.2">(1)</tspan></text>
<text x="288" y="252.2" font-family='"Liberation Sans", Arial, Helvetica, sans-serif' font-size="7.6" fill="#262626"><tspan font-style="italic">σ</tspan><tspan font-size="8.3" dy="3.0" dx="-0.3">P</tspan><tspan font-size="7" dy="-5.4" dx="0">(1)</tspan></text>
<text x="288" y="264.8" font-family='"Liberation Sans", Arial, Helvetica, sans-serif' font-size="7.6" fill="#262626"><tspan font-style="italic">σ</tspan><tspan font-size="8.3" dy="3.0" dx="-0.3">U</tspan><tspan font-size="7" dy="-5.7" dx="-0.3">(1)</tspan></text>
</g>
<g id="pf">
<path d="M651.7,317.7L651.67,315.98L651.59,314.22L651.45,312.45L651.27,310.69L651.05,308.95L650.79,307.26L650.51,305.64L650.2,304.1L649.86,302.65L649.47,301.27L649.05,299.96L648.59,298.69L648.12,297.46L647.62,296.26L647.11,295.08L646.6,293.9L646.08,292.74L645.54,291.61L644.99,290.5L644.42,289.42L643.84,288.36L643.24,287.32L642.63,286.3L642,285.3L641.36,284.32L640.7,283.36L640.03,282.43L639.34,281.51L638.64,280.61L637.91,279.73L637.17,278.86L636.4,278L635.61,277.15L634.82,276.33L634,275.52L633.16,274.73L632.3,273.94L631.4,273.16L630.47,272.38L629.5,271.6L628.49,270.81L627.45,270.02L626.38,269.22L625.28,268.43L624.14,267.66L622.97,266.91L621.75,266.18L620.5,265.5L619.16,264.84L617.71,264.19L616.19,263.56L614.65,262.96L613.13,262.39L611.67,261.87L610.31,261.4L609.1,261L608.04,260.67L607.1,260.41L606.25,260.21L605.46,260.05L604.72,259.92L604,259.81L603.26,259.71L602.5,259.6L601.73,259.49L601,259.4L600.28,259.32L599.57,259.26L598.85,259.21L598.11,259.17L597.33,259.13L596.5,259.1L568.7,259.1L567.87,259.13L567.09,259.17L566.35,259.21L565.63,259.26L564.92,259.32L564.2,259.4L563.47,259.49L562.7,259.6L561.94,259.71L561.2,259.81L560.48,259.92L559.74,260.05L558.95,260.21L558.1,260.41L557.16,260.67L556.1,261L554.89,261.4L553.53,261.87L552.07,262.39L550.55,262.96L549.01,263.56L547.49,264.19L546.04,264.84L544.7,265.5L543.45,266.18L542.23,266.91L541.06,267.66L539.92,268.43L538.82,269.22L537.75,270.02L536.71,270.81L535.7,271.6L534.73,272.38L533.8,273.16L532.9,273.94L532.04,274.73L531.2,275.52L530.38,276.33L529.59,277.15L528.8,278L528.03,278.86L527.29,279.73L526.56,280.61L525.86,281.51L525.17,282.43L524.5,283.36L523.84,284.32L523.2,285.3L522.57,286.3L521.96,287.32L521.36,288.36L520.78,289.42L520.21,290.5L519.66,291.61L519.12,292.74L518.6,293.9L518.09,295.08L517.58,296.26L517.08,297.46L516.61,298.69L516.15,299.96L515.73,301.27L515.34,302.65L515,304.1L514.69,305.64L514.41,307.26L514.15,308.95L513.93,310.69L513.75,312.45L513.61,314.22L513.53,315.98L513.5,317.7L513.53,319.42L513.61,321.18L513.75,322.95L513.93,324.71L514.15,326.45L514.41,328.14L514.69,329.76L515,331.3L515.34,332.75L515.73,334.13L516.15,335.44L516.61,336.71L517.08,337.94L517.58,339.14L518.09,340.32L518.6,341.5L519.12,342.66L519.66,343.79L520.21,344.9L520.78,345.98L521.36,347.04L521.96,348.08L522.57,349.1L523.2,350.1L523.84,351.08L524.5,352.04L525.17,352.97L525.86,353.89L526.56,354.79L527.29,355.67L528.03,356.54L528.8,357.4L529.59,358.25L530.38,359.07L531.2,359.88L532.04,360.67L532.9,361.46L533.8,362.24L534.73,363.02L535.7,363.8L536.71,364.59L537.75,365.38L538.82,366.18L539.92,366.97L541.06,367.74L542.23,368.49L543.45,369.22L544.7,369.9L546.04,370.56L547.49,371.21L549.01,371.84L550.55,372.44L552.07,373.01L553.53,373.53L554.89,374L556.1,374.4L557.16,374.73L558.1,374.99L558.95,375.19L559.74,375.35L560.48,375.48L561.2,375.59L561.94,375.69L562.7,375.8L563.47,375.91L564.2,376L564.92,376.08L565.63,376.14L566.35,376.19L567.09,376.23L567.87,376.27L568.7,376.3L596.5,376.3L597.33,376.27L598.11,376.23L598.85,376.19L599.57,376.14L600.28,376.08L601,376L601.73,375.91L602.5,375.8L603.26,375.69L604,375.59L604.72,375.48L605.46,375.35L606.25,375.19L607.1,374.99L608.04,374.73L609.1,374.4L610.31,374L611.67,373.53L613.13,373.01L614.65,372.44L616.19,371.84L617.71,371.21L619.16,370.56L620.5,369.9L621.75,369.22L622.97,368.49L624.14,367.74L625.28,366.97L626.38,366.18L627.45,365.38L628.49,364.59L629.5,363.8L630.47,363.02L631.4,362.24L632.3,361.46L633.16,360.67L634,359.88L634.82,359.07L635.61,358.25L636.4,357.4L637.17,356.54L637.91,355.67L638.64,354.79L639.34,353.89L640.03,352.97L640.7,352.04L641.36,351.08L642,350.1L642.63,349.1L643.24,348.08L643.84,347.04L644.42,345.98L644.99,344.9L645.54,343.79L646.08,342.66L646.6,341.5L647.11,340.32L647.62,339.14L648.12,337.94L648.59,336.71L649.05,335.44L649.47,334.13L649.86,332.75L650.2,331.3L650.51,329.76L650.79,328.14L651.05,326.45L651.27,324.71L651.45,322.95L651.59,321.18L651.67,319.42Z" fill="#f9bd73"/>
<path d="M651.2,317.7L651.18,316.12L651.13,314.5L651.04,312.86L650.92,311.23L650.77,309.63L650.6,308.09L650.41,306.64L650.2,305.3L649.97,304.08L649.7,302.96L649.41,301.93L649.1,300.95L648.77,300.02L648.42,299.11L648.07,298.21L647.7,297.3L647.33,296.38L646.94,295.49L646.54,294.61L646.12,293.75L645.7,292.91L645.25,292.09L644.78,291.28L644.3,290.5L643.8,289.73L643.28,288.96L642.75,288.22L642.19,287.49L641.62,286.79L641.04,286.12L640.43,285.49L639.8,284.9L639.16,284.35L638.51,283.84L637.85,283.37L637.17,282.93L636.46,282.52L635.71,282.14L634.93,281.8L634.1,281.5L633.21,281.24L632.26,281.02L631.26,280.84L630.23,280.69L629.18,280.57L628.14,280.46L627.1,280.38L626.1,280.3L539.1,280.3L538.1,280.38L537.06,280.46L536.02,280.57L534.97,280.69L533.94,280.84L532.94,281.02L531.99,281.24L531.1,281.5L530.27,281.8L529.49,282.14L528.74,282.52L528.03,282.93L527.35,283.37L526.69,283.84L526.04,284.35L525.4,284.9L524.77,285.49L524.16,286.12L523.58,286.79L523.01,287.49L522.45,288.22L521.92,288.96L521.4,289.73L520.9,290.5L520.42,291.28L519.95,292.09L519.5,292.91L519.08,293.75L518.66,294.61L518.26,295.49L517.87,296.38L517.5,297.3L517.13,298.21L516.78,299.11L516.43,300.02L516.1,300.95L515.79,301.93L515.5,302.96L515.23,304.08L515,305.3L514.79,306.64L514.6,308.09L514.43,309.63L514.28,311.23L514.16,312.86L514.07,314.5L514.02,316.12L514,317.7L514.02,319.28L514.07,320.9L514.16,322.54L514.28,324.17L514.43,325.77L514.6,327.31L514.79,328.76L515,330.1L515.23,331.32L515.5,332.44L515.79,333.47L516.1,334.45L516.43,335.38L516.78,336.29L517.13,337.19L517.5,338.1L517.87,339.02L518.26,339.91L518.66,340.79L519.08,341.65L519.5,342.49L519.95,343.31L520.42,344.12L520.9,344.9L521.4,345.67L521.92,346.44L522.45,347.18L523.01,347.91L523.58,348.61L524.16,349.28L524.77,349.91L525.4,350.5L526.04,351.05L526.69,351.56L527.35,352.03L528.03,352.47L528.74,352.88L529.49,353.26L530.27,353.6L531.1,353.9L531.99,354.16L532.94,354.38L533.94,354.56L534.97,354.71L536.02,354.83L537.06,354.94L538.1,355.02L539.1,355.1L626.1,355.1L627.1,355.02L628.14,354.94L629.18,354.83L630.23,354.71L631.26,354.56L632.26,354.38L633.21,354.16L634.1,353.9L634.93,353.6L635.71,353.26L636.46,352.88L637.17,352.47L637.85,352.03L638.51,351.56L639.16,351.05L639.8,350.5L640.43,349.91L641.04,349.28L641.62,348.61L642.19,347.91L642.75,347.18L643.28,346.44L643.8,345.67L644.3,344.9L644.78,344.12L645.25,343.31L645.7,342.49L646.12,341.65L646.54,340.79L646.94,339.91L647.33,339.02L647.7,338.1L648.07,337.19L648.42,336.29L648.77,335.38L649.1,334.45L649.41,333.47L649.7,332.44L649.97,331.32L650.2,330.1L650.41,328.76L650.6,327.31L650.77,325.77L650.92,324.17L651.04,322.54L651.13,320.9L651.18,319.28Z" fill="#cccccc"/>
<line x1="514.3" y1="317.7" x2="650.9" y2="317.7" stroke="#ff7078" stroke-width="1.4"/>
<path d="M489.4,224.5H675.8V410.5" fill="none" stroke="#b4aeae" stroke-width="0.9"/>
<path d="M489.4,224.5V410.5H675.8" fill="none" stroke="#5a5a5a" stroke-width="0.9"/>
<line x1="504.93" y1="410.5" x2="504.93" y2="408.3" stroke="#808080" stroke-width="0.65"/>
<text x="505.33" y="424.1" font-family='"Liberation Sans", Arial, Helvetica, sans-serif' font-size="11" fill="#262626" text-anchor="middle">-10</text>
<line x1="543.76" y1="410.5" x2="543.76" y2="408.3" stroke="#808080" stroke-width="0.65"/>
<text x="544.16" y="424.1" font-family='"Liberation Sans", Arial, Helvetica, sans-serif' font-size="11" fill="#262626" text-anchor="middle">-5</text>
<line x1="582.6" y1="410.5" x2="582.6" y2="408.3" stroke="#808080" stroke-width="0.65"/>
<text x="583" y="424.1" font-family='"Liberation Sans", Arial, Helvetica, sans-serif' font-size="11" fill="#262626" text-anchor="middle">0</text>
<line x1="621.44" y1="410.5" x2="621.44" y2="408.3" stroke="#808080" stroke-width="0.65"/>
<text x="621.84" y="424.1" font-family='"Liberation Sans", Arial, Helvetica, sans-serif' font-size="11" fill="#262626" text-anchor="middle">5</text>
<line x1="660.27" y1="410.5" x2="660.27" y2="408.3" stroke="#808080" stroke-width="0.65"/>
<text x="660.67" y="424.1" font-family='"Liberation Sans", Arial, Helvetica, sans-serif' font-size="11" fill="#262626" text-anchor="middle">10</text>
<line x1="489.4" y1="392.3" x2="491.6" y2="392.3" stroke="#808080" stroke-width="0.65"/>
<text x="485.2" y="396.3" font-family='"Liberation Sans", Arial, Helvetica, sans-serif' font-size="11" fill="#262626" text-anchor="end">-2</text>
<line x1="489.4" y1="355" x2="491.6" y2="355" stroke="#808080" stroke-width="0.65"/>
<text x="485.2" y="359" font-family='"Liberation Sans", Arial, Helvetica, sans-serif' font-size="11" fill="#262626" text-anchor="end">-1</text>
<line x1="489.4" y1="317.7" x2="491.6" y2="317.7" stroke="#808080" stroke-width="0.65"/>
<text x="485.2" y="321.7" font-family='"Liberation Sans", Arial, Helvetica, sans-serif' font-size="11" fill="#262626" text-anchor="end">0</text>
<line x1="489.4" y1="280.4" x2="491.6" y2="280.4" stroke="#808080" stroke-width="0.65"/>
<text x="485.2" y="284.4" font-family='"Liberation Sans", Arial, Helvetica, sans-serif' font-size="11" fill="#262626" text-anchor="end">1</text>
<line x1="489.4" y1="243.1" x2="491.6" y2="243.1" stroke="#808080" stroke-width="0.65"/>
<text x="485.2" y="247.1" font-family='"Liberation Sans", Arial, Helvetica, sans-serif' font-size="11" fill="#262626" text-anchor="end">2</text>
<text x="583" y="437" font-family='"Liberation Sans", Arial, Helvetica, sans-serif' font-size="12" fill="#262626" text-anchor="middle">Re(E)</text>
<rect x="494.2" y="228.2" width="44.8" height="42" fill="#fff" stroke="#8a8a8a" stroke-width="0.6"/>
<rect x="496.9" y="231.2" width="17.7" height="9.5" fill="#f9bd73"/>
<rect x="496.9" y="244.2" width="17.7" height="9.5" fill="#cccccc"/>
<rect x="496.9" y="257.0" width="17.7" height="9.6" fill="#ff7078"/>
<text x="517.4" y="238.6" font-family='"Liberation Sans", Arial, Helvetica, sans-serif' font-size="8.5" fill="#262626">Sp<tspan font-size="7" dy="3" font-style="italic">ℓ</tspan><tspan font-size="7" dy="-6.4" dx="-2.2">(2)</tspan></text>
<text x="518" y="252.2" font-family='"Liberation Sans", Arial, Helvetica, sans-serif' font-size="7.6" fill="#262626"><tspan font-style="italic">σ</tspan><tspan font-size="8.3" dy="3.0" dx="-0.3">P</tspan><tspan font-size="7" dy="-5.4" dx="0">(2)</tspan></text>
<text x="518" y="264.8" font-family='"Liberation Sans", Arial, Helvetica, sans-serif' font-size="7.6" fill="#262626"><tspan font-style="italic">σ</tspan><tspan font-size="8.3" dy="3.0" dx="-0.3">U</tspan><tspan font-size="7" dy="-5.7" dx="-0.3">(2)</tspan></text>
</g>
<text x="-0.7" y="11.5" font-family='"Liberation Sans", Arial, Helvetica, sans-serif' font-weight="bold" font-size="16" fill="#000">a</text>
<text x="234.4" y="11.5" font-family='"Liberation Sans", Arial, Helvetica, sans-serif' font-weight="bold" font-size="16" fill="#000">b</text>
<text x="463.6" y="11.5" font-family='"Liberation Sans", Arial, Helvetica, sans-serif' font-weight="bold" font-size="16" fill="#000">c</text>
<text x="-0.3" y="221.3" font-family='"Liberation Sans", Arial, Helvetica, sans-serif' font-weight="bold" font-size="16" fill="#000">d</text>
<text x="234.6" y="221.5" font-family='"Liberation Sans", Arial, Helvetica, sans-serif' font-weight="bold" font-size="16" fill="#000">e</text>
<text x="463.9" y="221.4" font-family='"Liberation Sans", Arial, Helvetica, sans-serif' font-weight="bold" font-size="16" fill="#000">f</text>
</svg></body></html>
